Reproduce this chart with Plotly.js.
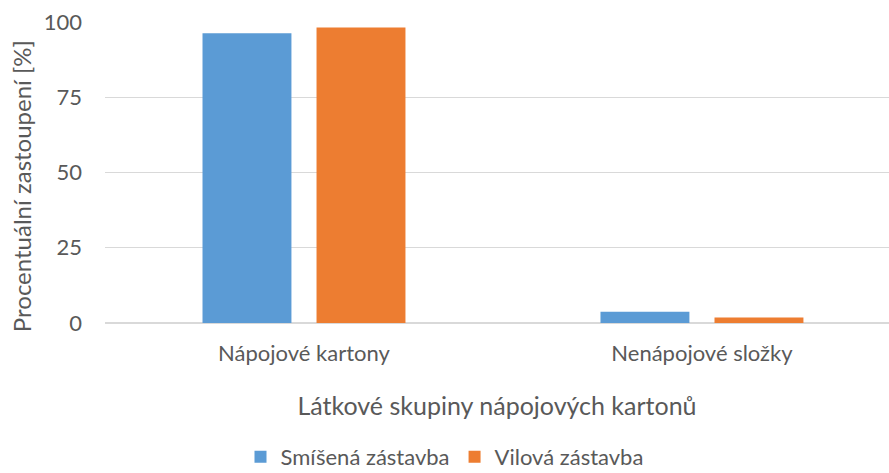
<!DOCTYPE html>
<html><head><meta charset="utf-8">
<script src="https://cdn.plot.ly/plotly-3.0.1.min.js"></script>
<style>body{margin:0;background:#fff}#c{width:889px;height:473px}</style>
</head><body><div id="c"></div>
<script>
const categories = ["Nápojové kartony", "Nenápojové složky"];
const smisena = [96.3, 3.7];
const vilova = [98.2, 1.8];
const seriesNames = ["Smíšená zástavba", "Vilová zástavba"];
const yTicks = [0, 25, 50, 75, 100];
const yTitle = "Procentuální zastoupení [%]";

const font = "Lato, Open Sans, sans-serif";
const data = [
  {type:"bar", x:categories, y:smisena, name:seriesNames[0], marker:{color:"#5b9bd5"}, hoverinfo:"y"},
  {type:"bar", x:categories, y:vilova, name:seriesNames[1], marker:{color:"#ed7d31"}, hoverinfo:"y"}
];
const layout = {
  width:889, height:473,
  margin:{l:105, r:0, t:22, b:150},
  paper_bgcolor:"#fff", plot_bgcolor:"#fff",
  font:{family:font, color:"#595959", size:22},
  barmode:"group", bargap:0.427, bargroupgap:0.22,
  showlegend:true,
  legend:{orientation:"h", x:0.5, xanchor:"center", xref:"container", yref:"container", y:0.034, yanchor:"middle", font:{size:22, color:"#595959"}, itemwidth:30, traceorder:"normal"},
  xaxis:{type:"category", range:[-0.5, 1.47], automargin:false, showgrid:false, showline:false, ticks:"", tickfont:{size:22}, ticklabelstandoff:15,
    title:{text:"Látkové skupiny nápojových kartonů", font:{size:25, color:"#595959"}, standoff:32}},
  yaxis:{range:[0,100], automargin:false, tickvals:yTicks, showgrid:true, gridcolor:"#d9d9d9", gridwidth:1, zeroline:true, zerolinecolor:"#d9d9d9", zerolinewidth:2,
    showline:false, ticks:"", tickfont:{size:22}, ticklabelstandoff:22},
  annotations:[{text:yTitle, textangle:-90, xref:"paper", yref:"paper", x:-0.107, y:0.455, xanchor:"center", yanchor:"middle", showarrow:false, font:{size:24, color:"#595959"}}]
};
Plotly.newPlot("c", data, layout, {displayModeBar:false, staticPlot:true});
</script></body></html>
